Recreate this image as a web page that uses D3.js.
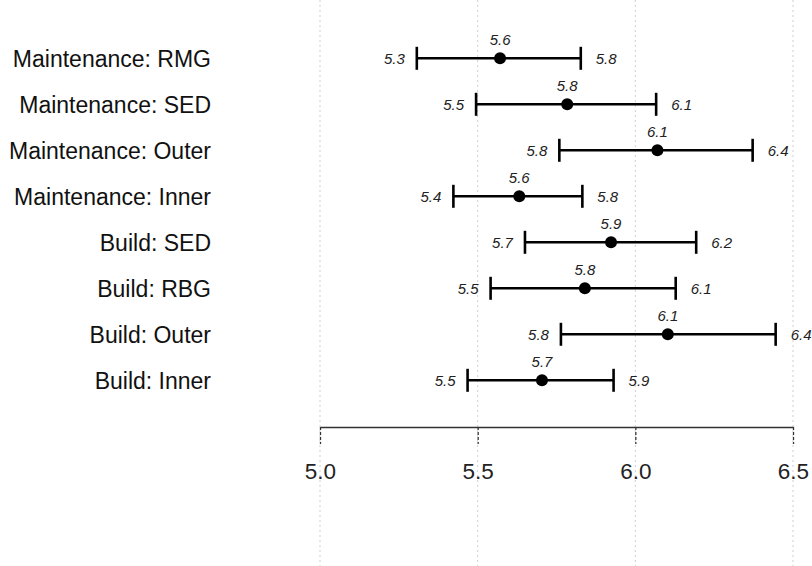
<!DOCTYPE html>
<html>
<head>
<meta charset="utf-8">
<script src="https://cdn.jsdelivr.net/npm/d3@7"></script>
<style>
html,body{margin:0;padding:0;background:#fff;}
svg{display:block;font-family:"Liberation Sans",Arial,sans-serif;}
</style>
</head>
<body>
<svg id="chart" width="812" height="566"></svg>
<script>
const categories = ["Maintenance: RMG","Maintenance: SED","Maintenance: Outer","Maintenance: Inner","Build: SED","Build: RBG","Build: Outer","Build: Inner"];
const estimates = [5.571, 5.784, 6.070, 5.632, 5.923, 5.840, 6.103, 5.704];
const lower     = [5.307, 5.495, 5.759, 5.423, 5.650, 5.541, 5.764, 5.468];
const upper     = [5.827, 6.066, 6.372, 5.832, 6.193, 6.128, 6.445, 5.931];
const tickValues = [5.0, 5.5, 6.0, 6.5];

const data = categories.map((c,i)=>({cat:c, est:estimates[i], lo:lower[i], hi:upper[i]}));

const svg = d3.select("#chart");
const W = 812, H = 566;
const x = d3.scaleLinear().domain([5.0, 6.5]).range([320, 793]);
const y = d3.scalePoint().domain(categories).range([58.3, 380.3]);
const fmt = d3.format(".1f");

// gridlines
svg.append("g").selectAll("line").data(tickValues).join("line")
  .attr("x1", d=>x(d)).attr("x2", d=>x(d))
  .attr("y1", 0).attr("y2", H)
  .attr("stroke", "#cfcfcf").attr("stroke-width", 1)
  .attr("stroke-dasharray", "2,3");

// x axis
const axisY = 427;
const axis = d3.axisBottom(x).tickValues(tickValues).tickFormat(fmt).tickSize(17).tickPadding(19).tickSizeOuter(0);
const ax = svg.append("g").attr("transform", `translate(0,${axisY})`).call(axis);
ax.select(".domain").attr("stroke", "#333").attr("stroke-width", 1.5);
ax.selectAll(".tick line").attr("stroke", "#333").attr("stroke-width", 1.3).attr("stroke-dasharray", "3,2");
ax.selectAll(".tick text").attr("font-size", 22.5).attr("fill", "#222")
  .attr("font-family", "'Liberation Sans',Arial,sans-serif");

// category labels
svg.append("g").selectAll("text").data(data).join("text")
  .attr("x", 211).attr("y", d=>y(d.cat)+9)
  .attr("text-anchor", "end").attr("font-size", 23).attr("fill", "#111")
  .text(d=>d.cat);

const rows = svg.append("g").selectAll("g").data(data).join("g");
// ci line
rows.append("line")
  .attr("x1", d=>x(d.lo)).attr("x2", d=>x(d.hi))
  .attr("y1", d=>y(d.cat)).attr("y2", d=>y(d.cat))
  .attr("stroke", "#000").attr("stroke-width", 2.6);
// caps
rows.append("line")
  .attr("x1", d=>x(d.lo)).attr("x2", d=>x(d.lo))
  .attr("y1", d=>y(d.cat)-11.5).attr("y2", d=>y(d.cat)+11.5)
  .attr("stroke", "#000").attr("stroke-width", 2.6);
rows.append("line")
  .attr("x1", d=>x(d.hi)).attr("x2", d=>x(d.hi))
  .attr("y1", d=>y(d.cat)-11.5).attr("y2", d=>y(d.cat)+11.5)
  .attr("stroke", "#000").attr("stroke-width", 2.6);
// points
rows.append("circle")
  .attr("cx", d=>x(d.est)).attr("cy", d=>y(d.cat)).attr("r", 6)
  .attr("fill", "#000");
// value labels
const lab = {"font-size":15, "font-style":"italic", "fill":"#222"};
function styl(s){ for (const k in lab) s.attr(k, lab[k]); return s; }
styl(rows.append("text")
  .attr("x", d=>x(d.est)).attr("y", d=>y(d.cat)-13)
  .attr("text-anchor", "middle").text(d=>fmt(d.est)));
styl(rows.append("text")
  .attr("x", d=>x(d.lo)-12).attr("y", d=>y(d.cat)+5.5)
  .attr("text-anchor", "end").text(d=>fmt(d.lo)));
styl(rows.append("text")
  .attr("x", d=>x(d.hi)+15).attr("y", d=>y(d.cat)+5.5)
  .attr("text-anchor", "start").text(d=>fmt(d.hi)));
</script>
</body>
</html>
